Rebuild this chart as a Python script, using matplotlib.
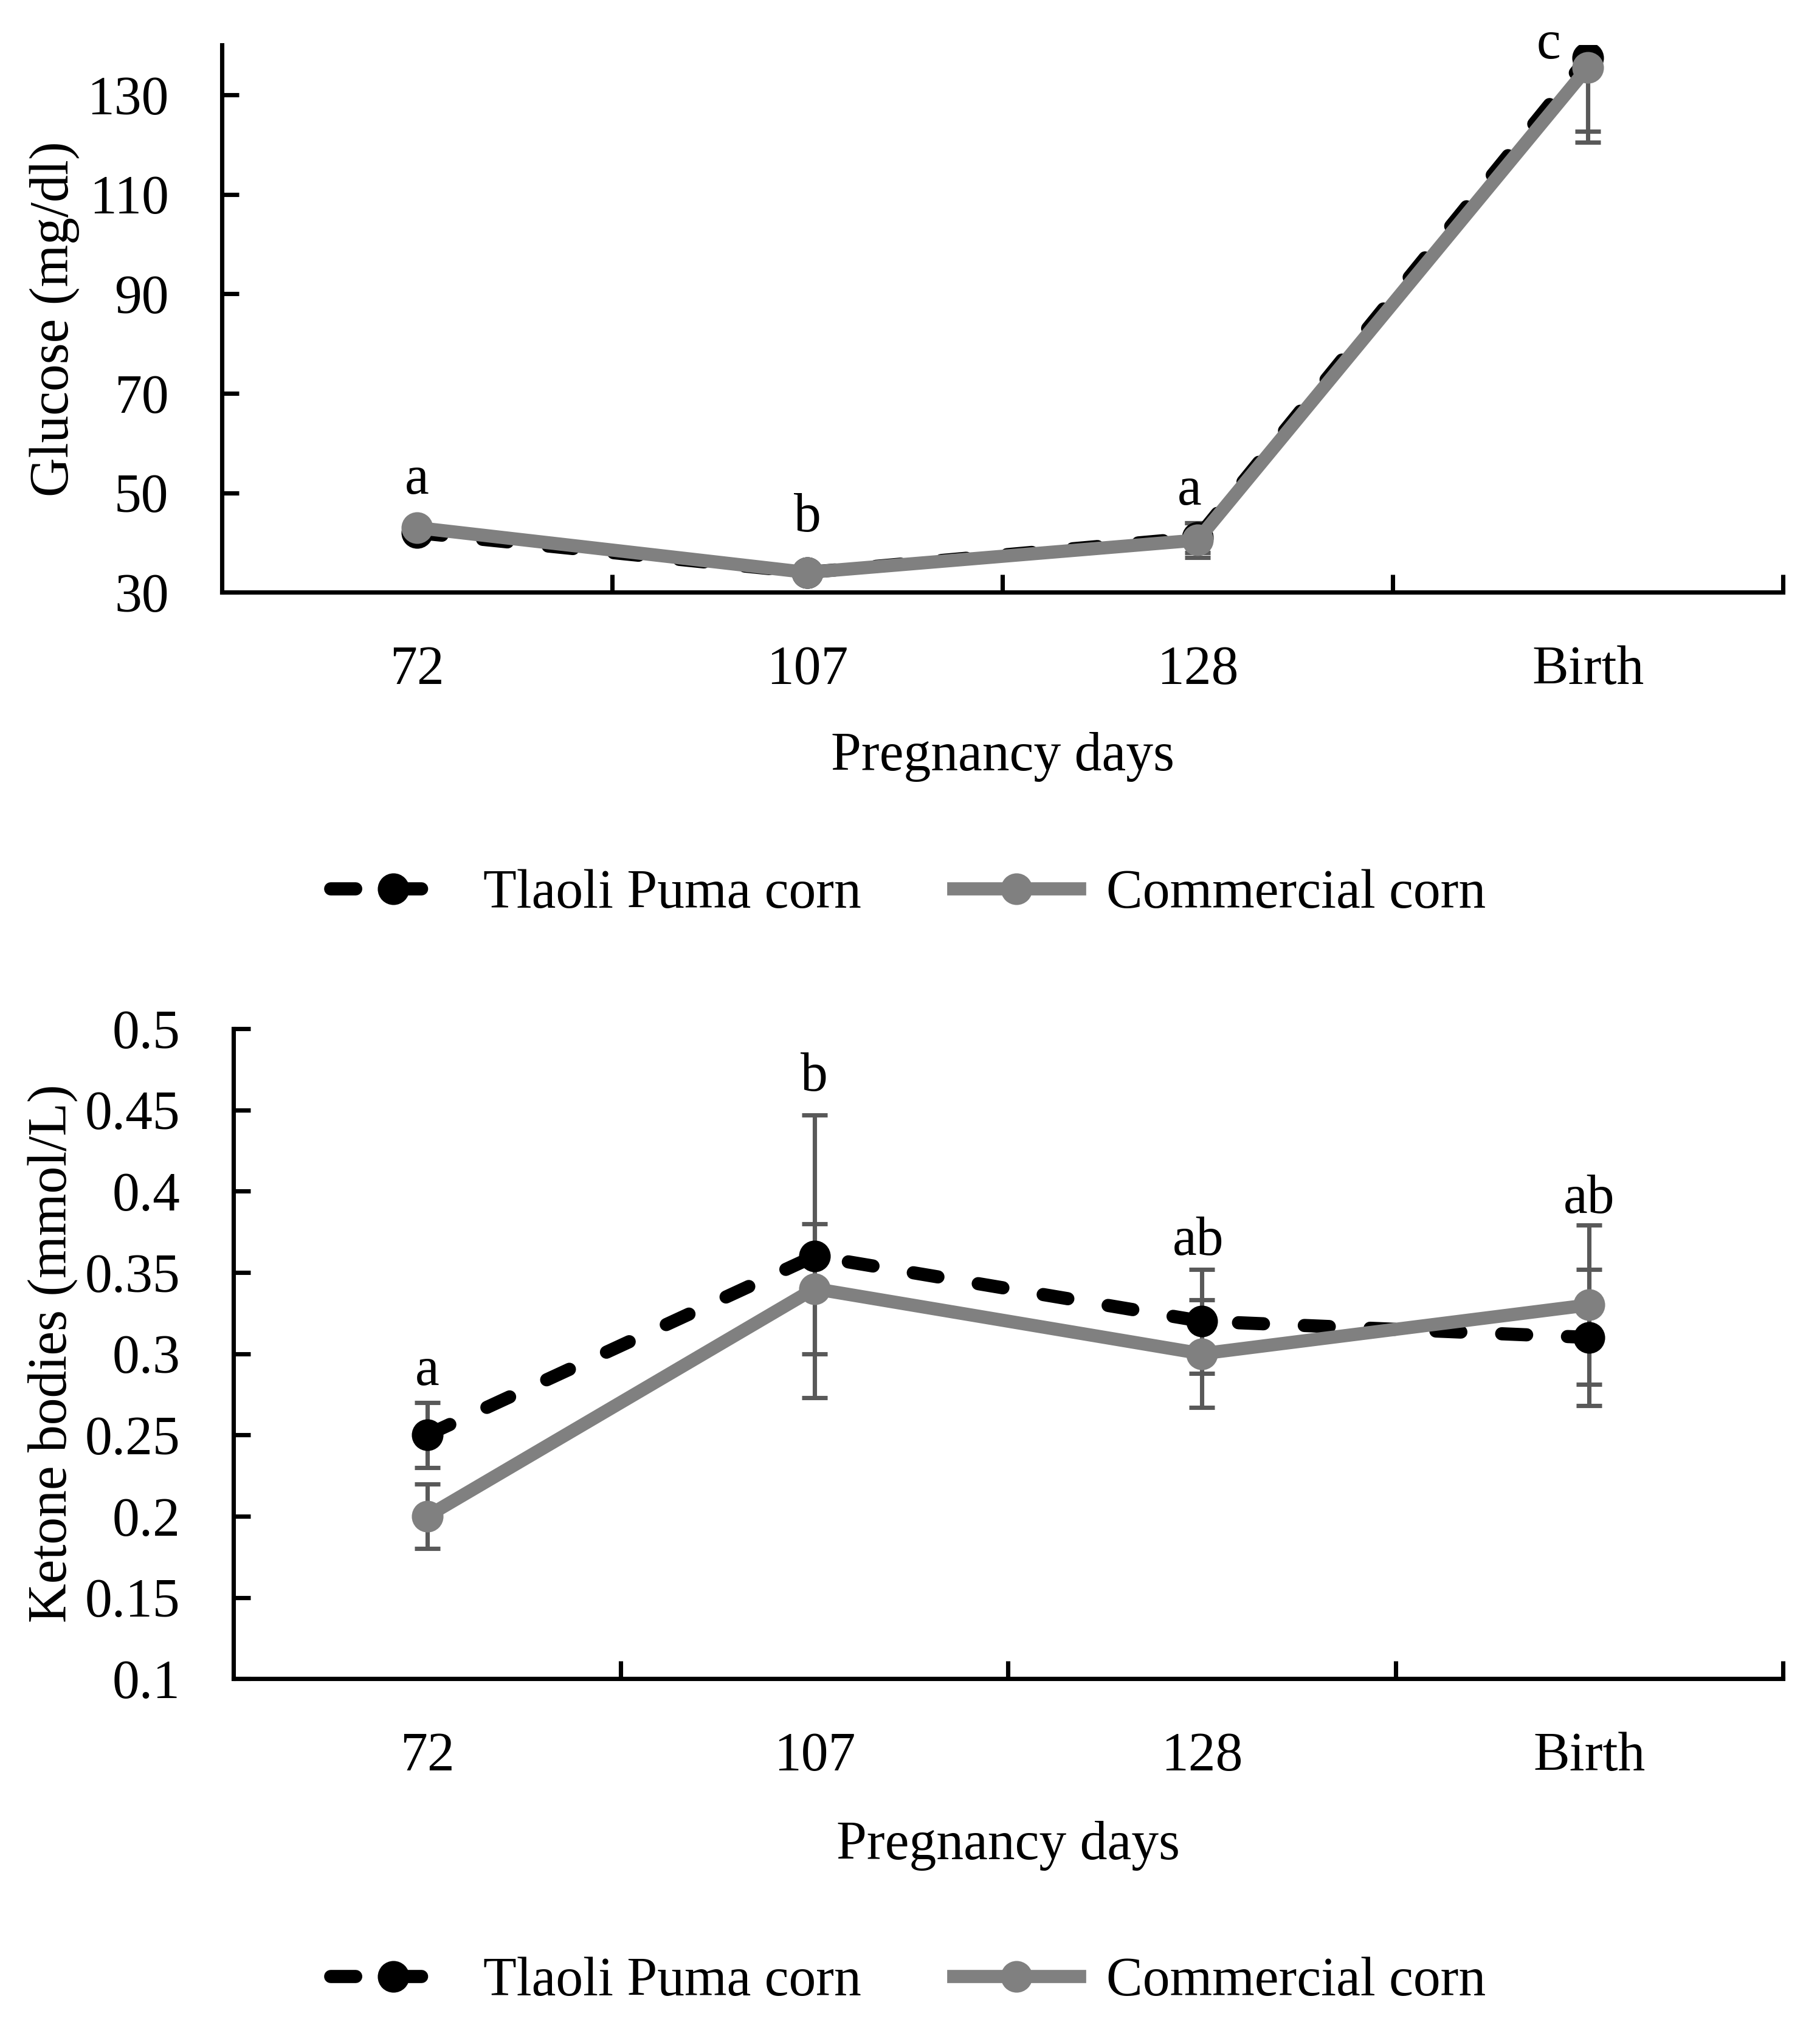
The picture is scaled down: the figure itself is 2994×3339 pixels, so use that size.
import matplotlib
matplotlib.use("Agg")
import matplotlib.pyplot as plt
from matplotlib.ticker import FixedLocator, FuncFormatter

plt.rcParams['font.family'] = ['Liberation Serif', 'DejaVu Serif']

categories = ["72", "107", "128", "Birth"]
series_names = ["Tlaoli Puma corn", "Commercial corn"]

glucose_tlaoli = [42.0, 34.0, 41.0, 137.5]
glucose_commercial = [43.0, 34.0, 40.5, 135.5]
glucose_err_tlaoli = [1.0, 1.0, 3.0, 14.8]
glucose_err_commercial = [1.0, 1.0, 3.5, 15.0]
glucose_letters = ["a", "b", "a", "c"]
glucose_letter_y = [52.6, 45.0, 50.4, 140.1]
glucose_letter_dx = [0.0, 0.0, -0.02, -0.1]

ketone_tlaoli = [0.25, 0.36, 0.32, 0.31]
ketone_commercial = [0.20, 0.34, 0.30, 0.33]
ketone_err_tlaoli = [0.02, 0.087, 0.032, 0.042]
ketone_err_commercial = [0.02, 0.04, 0.033, 0.049]
ketone_letters = ["a", "b", "ab", "ab"]
ketone_letter_y = [0.289, 0.470, 0.369, 0.395]
ketone_letter_dx = [0.0, 0.0, -0.01, 0.0]

FS = 21.5
LW = 5.2
MS = 11.5
SPINE_LW = 1.7
ERR_COLOR = "#595959"
GRAY = "#808080"

fig = plt.figure(figsize=(2995 / 300, 3339 / 300), dpi=300)

def make_panel(rect, y1, y2, e1, e2, ylim, yticks, ylabel, ylabel_x, xlabel_y,
               letters, letter_y, letter_dx, fmt, legend_y):
    ax = fig.add_axes(rect)
    x = list(range(len(categories)))
    ax.errorbar(x, y1, yerr=e1, fmt='none', ecolor=ERR_COLOR, elinewidth=SPINE_LW,
                capsize=5.0, capthick=SPINE_LW, zorder=2)
    ax.errorbar(x, y2, yerr=e2, fmt='none', ecolor=ERR_COLOR, elinewidth=SPINE_LW,
                capsize=5.0, capthick=SPINE_LW, zorder=2)
    l1, = ax.plot(x, y1, color='black', lw=LW, marker='o', ms=MS, mec='black',
                  mfc='black', label=series_names[0], zorder=3,
                  dash_capstyle='round', solid_capstyle='round')
    l1.set_dashes((1.9, 3.1))
    l2, = ax.plot(x, y2, color=GRAY, lw=LW, marker='o', ms=MS, mec=GRAY,
                  mfc=GRAY, label=series_names[1], zorder=4)
    for i, t in enumerate(letters):
        ax.text(i + letter_dx[i], letter_y[i], t, ha='center', va='center',
                fontsize=FS, clip_on=False, zorder=5)
    ax.set_xlim(-0.5, len(categories) - 0.5)
    ax.set_ylim(*ylim)
    ax.set_xticks(x)
    ax.set_xticklabels(categories)
    ax.xaxis.set_minor_locator(FixedLocator([0.5, 1.5, 2.5, 3.5]))
    ax.tick_params(axis='x', which='major', length=0, pad=21, labelsize=FS)
    ax.tick_params(axis='x', which='minor', direction='in', length=7, width=SPINE_LW)
    ax.yaxis.set_major_locator(FixedLocator(yticks))
    ax.yaxis.set_major_formatter(FuncFormatter(fmt))
    ax.tick_params(axis='y', direction='in', length=6.7, width=SPINE_LW, pad=21,
                   labelsize=FS)
    for s in ['top', 'right']:
        ax.spines[s].set_visible(False)
    for s in ['left', 'bottom']:
        ax.spines[s].set_linewidth(SPINE_LW)
        ax.spines[s].set_color('black')
    ax.set_ylabel(ylabel, fontsize=FS)
    ax.yaxis.set_label_coords(ylabel_x, 0.5)
    ax.yaxis.label.set_va('center')
    ax.set_xlabel("Pregnancy days", fontsize=FS)
    ax.xaxis.set_label_coords(0.5, xlabel_y)
    ax.xaxis.label.set_va('center')
    fig.legend(handles=[l1, l2], loc='center', bbox_to_anchor=(0.499, legend_y),
               ncol=2, frameon=False, fontsize=FS, handlelength=2.3,
               handletextpad=0.5, columnspacing=1.7)
    return ax

make_panel([0.1219, 0.7082, 0.8574, 0.2696],
           glucose_tlaoli, glucose_commercial, glucose_err_tlaoli, glucose_err_commercial,
           (30, 140), [30, 50, 70, 90, 110, 130], "Glucose (mg/dl)", -0.1075, -0.300,
           glucose_letters, glucose_letter_y, glucose_letter_dx,
           lambda v, p: f"{v:.0f}", 0.5594)

make_panel([0.1282, 0.1730, 0.8511, 0.3203],
           ketone_tlaoli, ketone_commercial, ketone_err_tlaoli, ketone_err_commercial,
           (0.1, 0.5), [0.1, 0.15, 0.2, 0.25, 0.3, 0.35, 0.4, 0.45, 0.5],
           "Ketone bodies (mmol/L)", -0.1165, -0.257,
           ketone_letters, ketone_letter_y, ketone_letter_dx,
           lambda v, p: f"{round(v, 2):g}", 0.0237)

fig.savefig("out.png", dpi=300)
